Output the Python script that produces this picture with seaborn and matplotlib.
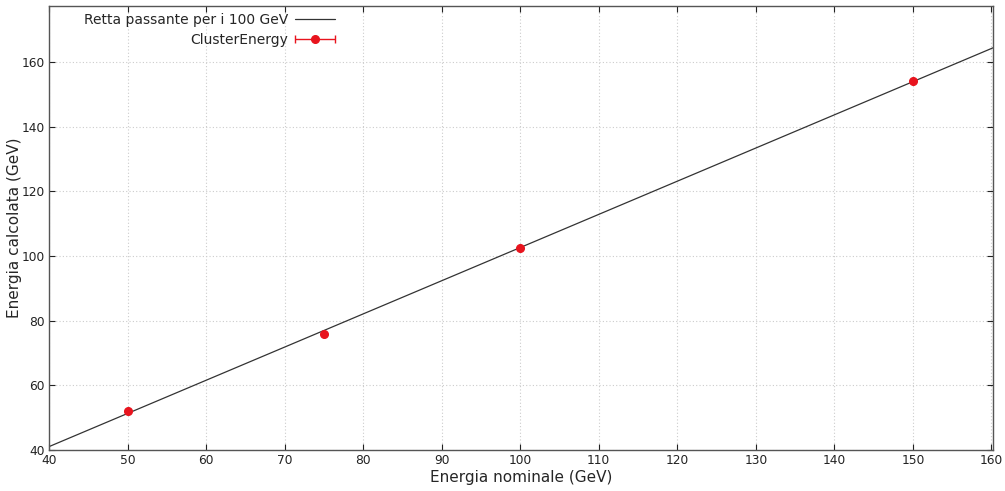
import numpy as np
import pandas as pd
import matplotlib
matplotlib.use("Agg")
import matplotlib.pyplot as plt
import seaborn as sns
from matplotlib.container import ErrorbarContainer
from matplotlib.legend_handler import HandlerErrorbar

# Data
nominal = [50, 75, 100, 150]
computed = [52.2, 75.8, 102.6, 154.2]
line_x = [40, 161]
slope = 102.6 / 100.0
line_label = "Retta passante per i 100 GeV"
point_label = "ClusterEnergy"
xticks = [40, 50, 60, 70, 80, 90, 100, 110, 120, 130, 140, 150, 160]
yticks = [40, 60, 80, 100, 120, 140, 160]

sns.set_theme(style="white")
plt.rcParams['font.family'] = ['DejaVu Sans']

fig = plt.figure(figsize=(10.05, 4.91), dpi=100)
ax = fig.add_axes([49/1005, 41/491, (993-49)/1005, (450-6)/491])

df_line = pd.DataFrame({"x": line_x, "y": [slope * v for v in line_x]})
sns.lineplot(data=df_line, x="x", y="y", ax=ax, color="#333333", lw=0.9, label=line_label)

ax.errorbar(nominal, computed, xerr=[0.0]*len(nominal), fmt="o", color="#e8141e",
            ms=5.5, elinewidth=1, capsize=3, label=point_label, zorder=3)

ax.set_xlim(40, 160.2)
ax.set_ylim(40, 177.3)
ax.set_xticks(xticks)
ax.set_yticks(yticks)
ax.grid(True, color="#cccccc", linestyle=(0, (1, 2)), lw=0.8)
ax.tick_params(direction="in", length=4, width=0.8, colors="#222222",
               labelsize=8.8, right=True, top=True, bottom=True, left=True,
               pad=3)
for s in ["left", "bottom", "right", "top"]:
    ax.spines[s].set_color("#555555")
    ax.spines[s].set_linewidth(1.0)

ax.set_xlabel("Energia nominale (GeV)", fontsize=11, labelpad=2)
ax.set_ylabel("Energia calcolata (GeV)", fontsize=11)
ax.yaxis.set_label_coords(-(49 - 22) / 944, 0.5)

handles, labels = ax.get_legend_handles_labels()
leg = ax.legend(handles, labels, loc="upper right",
                bbox_to_anchor=((340 - 49) / 944, 1.0 - 2 / 444),
                markerfirst=False, frameon=False, fontsize=10, handlelength=2.9,
                handletextpad=0.5, labelspacing=0.45, borderaxespad=0.0, borderpad=0.35,
                handler_map={ErrorbarContainer: HandlerErrorbar(xerr_size=1.45)})
for t in leg.get_texts():
    t.set_ha("right")
    t.set_position((0, 0))

fig.savefig("out.png", dpi=100)
